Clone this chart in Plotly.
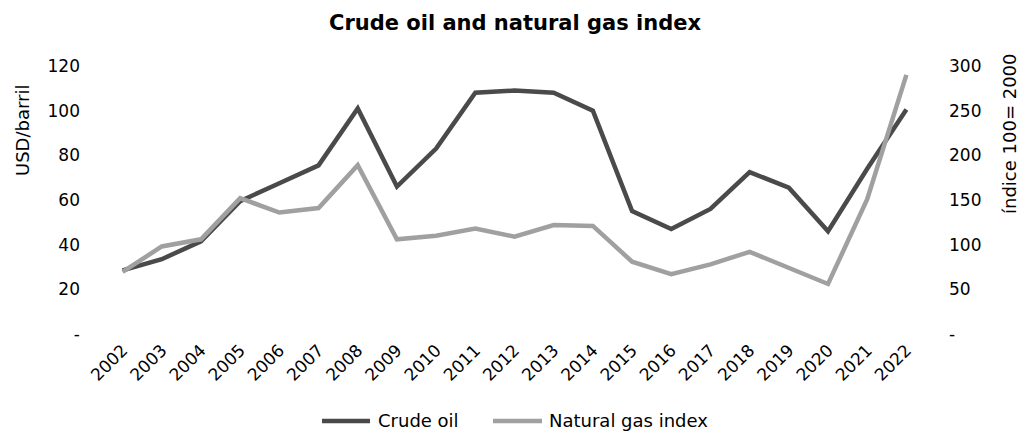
import plotly.graph_objects as go

years = [str(y) for y in range(2002, 2023)]
crude_oil = [28.5, 33.5, 41.5, 59.5, 67.5, 75.5, 101, 66, 83, 108, 109, 108, 100,
             55, 47, 56, 72.5, 65.5, 46, 74, 100.5]
gas_index = [69.5, 98, 106, 152, 136, 141, 189, 106, 110, 118, 109, 122, 121,
             81, 67, 78, 92, 74, 56, 151, 290]
series_names = ["Crude oil", "Natural gas index"]
series_colors = ["#4a4a4a", "#a0a0a0"]

left_ticks = [0, 20, 40, 60, 80, 100, 120]
left_text = ["-", "20", "40", "60", "80", "100", "120"]
right_ticks = [0, 50, 100, 150, 200, 250, 300]
right_text = ["-", "50", "100", "150", "200", "250", "300"]

FONT = "DejaVu Sans"
L, R, T, B = 103, 93, 66, 98
W, H = 1019, 432
PW, PH = W - L - R, H - T - B


def px_x(p):
    return (p - L) / PW


def px_y(p):
    return (H - B - p) / PH


fig = go.Figure()
fig.add_trace(go.Scatter(x=years, y=crude_oil, name=series_names[0], mode="lines",
                         line=dict(color=series_colors[0], width=4.5), yaxis="y",
                         showlegend=False))
fig.add_trace(go.Scatter(x=years, y=gas_index, name=series_names[1], mode="lines",
                         line=dict(color=series_colors[1], width=4.5), yaxis="y2",
                         showlegend=False))

fig.update_layout(
    width=W, height=H,
    margin=dict(l=L, r=R, t=T, b=B, autoexpand=False),
    paper_bgcolor="white", plot_bgcolor="white",
    font=dict(family=FONT, size=17, color="#000000"),
    title=dict(text="<b>Crude oil and natural gas index</b>", x=515 / W, xanchor="center",
               y=1 - 23 / H, yanchor="middle", font=dict(family=FONT, size=21, color="#000")),
    xaxis=dict(type="category", range=[-0.5, 20.5], tickangle=-45, showgrid=False,
               showline=False, zeroline=False, ticks="", tickfont=dict(size=17),
               ticklabelstandoff=2),
    yaxis=dict(range=[0, 120], tickvals=left_ticks, ticktext=left_text, showgrid=False,
               zeroline=False, showline=False, ticks="", ticklabelstandoff=22),
    yaxis2=dict(range=[0, 300], tickvals=right_ticks, ticktext=right_text, overlaying="y",
                side="right", showgrid=False, zeroline=False, showline=False, ticks="",
                ticklabelstandoff=22),
    showlegend=False,
)

# legend drawn manually so it sits exactly where the reference has it
legend_y = 420
legend_items = [(322, 370, 377), (493, 542, 548)]
for (x0, x1, xt), name, color in zip(legend_items, series_names, series_colors):
    fig.add_shape(type="line", xref="paper", yref="paper", x0=px_x(x0), x1=px_x(x1),
                  y0=px_y(legend_y + 1), y1=px_y(legend_y + 1),
                  line=dict(color=color, width=4.5))
    fig.add_annotation(text=name, xref="paper", yref="paper", x=px_x(xt), y=px_y(legend_y),
                       showarrow=False, xanchor="left", yanchor="middle",
                       font=dict(size=18), borderpad=0)

fig.add_annotation(text="USD/barril", xref="paper", yref="paper", x=px_x(22),
                   y=px_y(131), textangle=-90, showarrow=False,
                   xanchor="center", yanchor="middle", font=dict(size=18))
fig.add_annotation(text="índice 100= 2000", xref="paper", yref="paper", x=px_x(1009),
                   y=px_y(134), textangle=-90, showarrow=False,
                   xanchor="center", yanchor="middle", font=dict(size=18))

fig.write_html("out.html", config={"displayModeBar": False},
               post_script="document.body.style.margin='0';document.body.style.overflow='hidden';")
